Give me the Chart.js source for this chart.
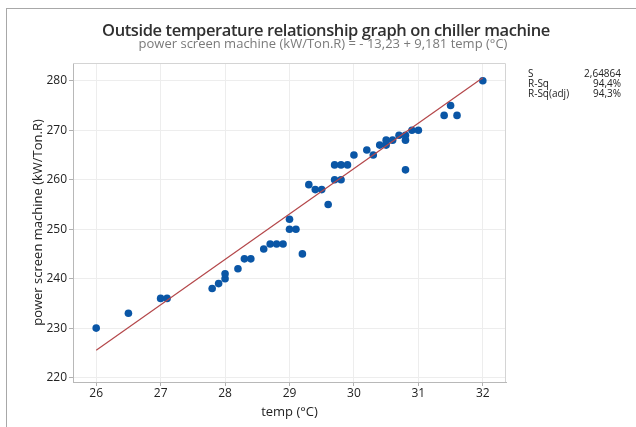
<!DOCTYPE html>
<html>
<head>
<meta charset="utf-8">
<script src="https://cdn.jsdelivr.net/npm/chart.js@4/dist/chart.umd.min.js"></script>
<style>
  body { margin: 0; background: #fff; }
  #wrap { position: relative; width: 636px; height: 427px; }
  #frame { position: absolute; left: 6px; top: 8px; right: 0; bottom: 0; border-top: 1px solid #a8a8a8; border-left: 1px solid #a8a8a8; pointer-events: none; }
</style>
</head>
<body>
<div id="wrap">
  <canvas id="myChart" width="636" height="427"></canvas>
  <div id="frame"></div>
</div>
<script>
// data
const temp = [26, 26.5, 27, 27.1, 27.8, 27.9, 28, 28, 28.2, 28.3, 28.4, 28.6, 28.7, 28.8, 28.9,
  29, 29, 29.1, 29.2, 29.3, 29.4, 29.5, 29.6, 29.7, 29.8, 29.9, 29.7, 29.8, 30, 30.2, 30.3,
  30.4, 30.5, 30.5, 30.6, 30.7, 30.8, 30.8, 30.8, 30.9, 31, 31.4, 31.5, 31.6, 32];
const power = [230, 233, 236, 236, 238, 239, 240, 241, 242, 244, 244, 246, 247, 247, 247,
  252, 250, 250, 245, 259, 258, 258, 255, 263, 263, 263, 260, 260, 265, 266, 265,
  267, 267, 268, 268, 269, 269, 268, 262, 270, 270, 273, 275, 273, 280];
// fitted line end points (power = -13,23 + 9,181 temp)
const fitX = [26, 32];
const fitY = [225.5, 280.6];

const xTicks = [26, 27, 28, 29, 30, 31, 32];
const yTicks = [220, 230, 240, 250, 260, 270, 280];

const statNames = ['S', 'R-Sq', 'R-Sq(adj)'];
const statValues = ['2,64864', '94,4%', '94,3%'];

const titleText = 'Outside temperature relationship graph on chiller machine';
const subtitleText = 'power screen machine (kW/Ton.R) = - 13,23 + 9,181 temp (°C)';

const FONT = '"Open Sans", "Noto Sans", sans-serif';

// title, subtitle, stats box and plot frame
const extras = {
  id: 'extras',
  beforeDatasetsDraw(chart) {
    const {ctx, chartArea: a} = chart;
    ctx.save();
    ctx.strokeStyle = '#d4d4d4';
    ctx.lineWidth = 1;
    ctx.beginPath();
    ctx.moveTo(a.left, a.top + 0.5);
    ctx.lineTo(a.right - 0.5, a.top + 0.5);
    ctx.lineTo(a.right - 0.5, a.bottom);
    ctx.stroke();
    ctx.restore();
  },
  afterDraw(chart) {
    const ctx = chart.ctx;
    ctx.save();
    ctx.textBaseline = 'alphabetic';
    ctx.textAlign = 'center';
    ctx.fillStyle = '#303030';
    ctx.font = '600 16.5px ' + FONT;
    ctx.letterSpacing = '-0.4px';
    ctx.fillText(titleText, 326, 36);
    ctx.letterSpacing = '0px';
    ctx.fillStyle = '#7a7a7a';
    ctx.font = '13px ' + FONT;
    ctx.fillText(subtitleText, 323, 48);

    ctx.font = '10px ' + FONT;
    ctx.fillStyle = '#222';
    statNames.forEach((n, i) => {
      const y = 77 + i * 10;
      ctx.textAlign = 'left';
      ctx.fillText(n, 528, y);
      ctx.textAlign = 'right';
      ctx.fillText(statValues[i], 621, y);
    });
    ctx.restore();
  }
};

const ctx = document.getElementById('myChart');
const chart = new Chart(ctx, {
  plugins: [extras],
  data: {
    datasets: [
      {
        type: 'line',
        data: fitX.map((x, i) => ({x: x, y: fitY[i]})),
        borderColor: '#b4474a',
        borderWidth: 1.2,
        pointRadius: 0,
        fill: false,
        order: 0
      },
      {
        type: 'scatter',
        data: temp.map((x, i) => ({x: x, y: power[i]})),
        backgroundColor: '#0a56a6',
        borderColor: '#0a56a6',
        borderWidth: 0,
        pointRadius: 3.8,
        order: 1
      }
    ]
  },
  options: {
    animation: false,
    responsive: false,
    devicePixelRatio: 1,
    layout: { padding: { left: 0, top: 63, right: 130, bottom: 0 } },
    plugins: {
      legend: { display: false },
      tooltip: { enabled: false }
    },
    scales: {
      x: {
        type: 'linear',
        min: 25.64,
        max: 32.36,
        afterBuildTicks: s => { s.ticks = xTicks.map(v => ({value: v})); },
        afterFit: s => { s.height = 45; },
        ticks: { color: '#222', font: { family: FONT, size: 12 }, padding: 0, maxRotation: 0 },
        grid: { color: '#ededed', tickColor: '#b0b0b0', tickLength: 4 },
        border: { color: '#b8b8b8' },
        title: { display: true, text: 'temp (°C)', color: '#222', font: { family: FONT, size: 13 }, padding: { top: 0, bottom: 7 } }
      },
      y: {
        type: 'linear',
        min: 219.1,
        max: 283.6,
        afterBuildTicks: s => { s.ticks = yTicks.map(v => ({value: v})); },
        afterFit: s => { s.width = 73; },
        ticks: { color: '#222', font: { family: FONT, size: 12 }, padding: 2 },
        grid: { color: '#ededed', tickColor: '#b0b0b0', tickLength: 4 },
        border: { color: '#b8b8b8' },
        title: { display: true, text: 'power screen machine (kW/Ton.R)', color: '#222', font: { family: FONT, size: 13 }, padding: { top: 30, bottom: 0 } }
      }
    }
  }
});
</script>
</body>
</html>
